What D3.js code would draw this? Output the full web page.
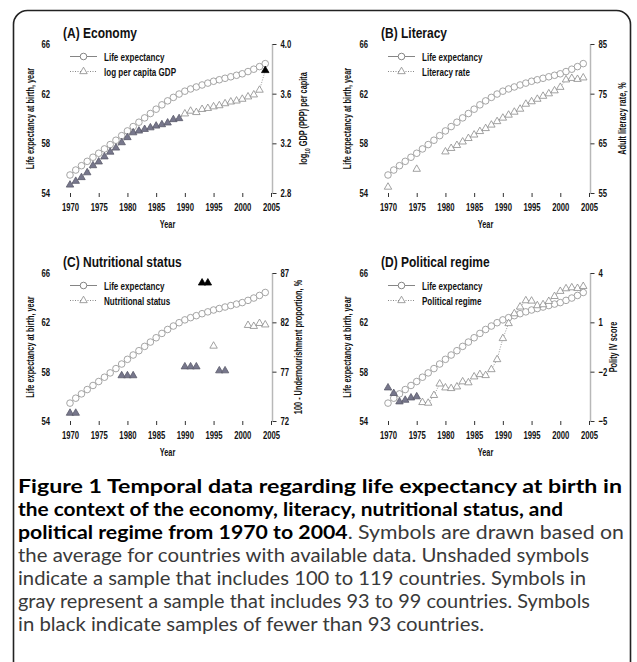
<!DOCTYPE html>
<html><head><meta charset="utf-8">
<script src="https://cdn.jsdelivr.net/npm/d3@7"></script>
<style>
html,body{margin:0;padding:0;background:#fff;}
svg{display:block;}
.cf{font-family:"Liberation Sans",Arial,sans-serif;}
</style></head>
<body>
<svg id="chart" width="637" height="662"></svg>
<script>
// ---------- DATA ----------
const years = [1970,1971,1972,1973,1974,1975,1976,1977,1978,1979,1980,1981,1982,1983,1984,1985,1986,1987,1988,1989,1990,1991,1992,1993,1994,1995,1996,1997,1998,1999,2000,2001,2002,2003,2004];
const lifeExp = [55.45,55.85,56.2,56.55,56.88,57.2,57.55,57.9,58.25,58.62,59.0,59.35,59.7,60.05,60.4,60.75,61.1,61.42,61.7,61.97,62.2,62.38,62.54,62.7,62.85,63.0,63.12,63.24,63.36,63.48,63.6,63.78,63.97,64.18,64.42];
const xTicks = [1970,1975,1980,1985,1990,1995,2000,2005];
const leftTicks = [54,58,62,66];

// (A) log10 GDP per capita
const gdpYears = years;
const gdpValues = [2.865,2.895,2.925,2.964,3.021,3.051,3.092,3.130,3.163,3.206,3.247,3.286,3.300,3.313,3.326,3.340,3.351,3.365,3.392,3.400,3.438,3.460,3.449,3.474,3.482,3.495,3.504,3.520,3.534,3.542,3.556,3.575,3.591,3.629,3.787];
const gdpShade = ["g","g","g","g","g","g","g","g","g","g","g","g","g","g","g","g","g","g","g","g","o","o","o","o","o","o","o","o","o","o","o","o","o","o","b"];
const gdpTicks = [2.8,3.2,3.6,4.0];

// (B) Adult literacy rate
const litYears = [1970,1975,1980,1981,1982,1983,1984,1985,1986,1987,1988,1989,1990,1991,1992,1993,1994,1995,1996,1997,1998,1999,2000,2001,2002,2003,2004];
const litValues = [56.2,59.8,63.3,64.0,64.6,65.3,66.0,66.7,67.4,68.0,68.7,69.4,70.1,70.7,71.3,71.9,72.9,73.4,73.9,74.5,75.0,75.6,76.3,77.8,78.1,77.9,78.2];
const litShade = ["o","o","o","o","o","o","o","o","o","o","o","o","o","o","o","o","o","o","o","o","o","o","o","o","o","o","o"];
const litTicks = [55,65,75,85];

// (C) Nutritional status (100 - undernourishment proportion)
const nutYears = [1970,1971,1979,1980,1981,1990,1991,1992,1993,1994,1995,1996,1997,2001,2002,2003,2004];
const nutValues = [72.8,72.8,76.6,76.6,76.6,77.5,77.5,77.5,86.0,86.0,79.6,77.1,77.1,81.7,81.6,81.9,81.75];
const nutShade = ["g","g","g","g","g","g","g","g","b","b","o","g","g","o","o","o","o"];
const nutTicks = [72,77,82,87];

// (D) Polity IV score
const polYears = years;
const polValues = [-2.98,-3.32,-3.83,-3.73,-3.59,-3.52,-3.87,-3.91,-3.44,-2.74,-2.98,-3.02,-2.92,-2.61,-2.67,-2.31,-2.17,-2.23,-1.87,-1.26,0.02,0.93,1.53,1.94,2.32,2.30,2.02,2.08,2.28,2.58,2.89,3.05,3.11,3.07,3.19];
const polShade = ["g","g","g","g","g","g","o","o","o","o","o","o","o","o","o","o","o","o","o","o","o","o","o","o","o","o","o","o","o","o","o","o","o","o","o"];
const polTicks = [-5,-2,1,4];

const captionLines = [
  [["b","Figure 1 Temporal data regarding life expectancy at birth in"]],
  [["b","the context of the economy, literacy, nutritional status, and"]],
  [["b","political regime from 1970 to 2004"],["r",". Symbols are drawn based on"]],
  [["r","the average for countries with available data. Unshaded symbols"]],
  [["r","indicate a sample that includes 100 to 119 countries. Symbols in"]],
  [["r","gray represent a sample that includes 93 to 99 countries. Symbols"]],
  [["r","in black indicate samples of fewer than 93 countries."]]
];

// ---------- LAYOUT ----------
const panels = [
  {title:"(A) Economy", legend:"log per capita GDP", x0:70, y0:44, y1:193, yrs:gdpYears, vals:gdpValues, shade:gdpShade, dom:[2.8,4.0], ticks:gdpTicks, fmt:d3.format(".1f"), rlabel:"gdp", rlx:307, llx:34, link:true},
  {title:"(B) Literacy", legend:"Literacy rate", x0:388, y0:44, y1:193, yrs:litYears, vals:litValues, shade:litShade, dom:[55,85], ticks:litTicks, fmt:d3.format("d"), rlabel:"Adult literacy rate, %", rlx:626, llx:351, link:true},
  {title:"(C) Nutritional status", legend:"Nutritional status", x0:70, y0:273, y1:421, yrs:nutYears, vals:nutValues, shade:nutShade, dom:[72,87], ticks:nutTicks, fmt:d3.format("d"), rlabel:"100 - Undernourishment proportion, %", rlx:302, llx:34, link:false},
  {title:"(D) Political regime", legend:"Political regime", x0:388, y0:273, y1:421, yrs:polYears, vals:polValues, shade:polShade, dom:[-5,4], ticks:polTicks, fmt:d3.format("d"), rlabel:"Polity IV score", rlx:617, llx:351, link:true}
];
const plotW = 201;
const squeeze = 0.7, titleSqueeze = 0.8;
const circleStroke = "#9a9a9a";
const triStroke = "#8a8a8a";
const fillFor = {o:"#ffffff", g:"#77778c", b:"#000000"};
const strokeFor = {o:triStroke, g:"#5a5a6a", b:"#000000"};
const capTargets = [604, 545, 606, 571, 568, 572, 466];

const svg = d3.select("#chart");

svg.append("rect").attr("x",13.5).attr("y",10.5).attr("width",617).attr("height",720)
  .attr("rx",14).attr("fill","none").attr("stroke","#222").attr("stroke-width",1.6);

const tri = d3.symbol().type(d3.symbolTriangle).size(24);

panels.forEach(p => {
  const g = svg.append("g").attr("class","cf");
  const x = d3.scaleLinear().domain([1970,2005]).range([p.x0, p.x0+plotW]);
  const yL = d3.scaleLinear().domain([54,66]).range([p.y1, p.y0]);
  const yR = d3.scaleLinear().domain(p.dom).range([p.y1, p.y0]);
  const xr = p.x0 + plotW + 1.5;

  g.append("text").attr("class","ptitle").attr("x",p.x0-7).attr("y",p.y0-6).attr("font-size",15).attr("font-weight","bold")
    .attr("fill","#111").text(p.title);

  g.append("line").attr("x1",xr).attr("x2",xr).attr("y1",p.y0).attr("y2",p.y1)
    .attr("stroke","#b8b8b8").attr("stroke-width",1.5);

  const xa = g.append("g").attr("transform",`translate(0,${p.y1})`)
    .call(d3.axisBottom(x).tickValues(xTicks).tickFormat(d3.format("d")).tickSize(4).tickPadding(6));
  xa.select(".domain").remove();
  xa.selectAll("line").attr("stroke","#333");
  xa.selectAll("text").attr("font-size",11).attr("font-weight","bold").attr("fill","#111").attr("font-family",null);

  const la = g.append("g").attr("transform",`translate(${p.x0},0)`)
    .call(d3.axisLeft(yL).tickValues(leftTicks).tickFormat(d3.format("d")).tickSize(0).tickPadding(20));
  la.select(".domain").remove();
  la.selectAll("text").attr("font-size",11).attr("font-weight","bold").attr("fill","#111").attr("font-family",null);

  const ra = g.append("g").attr("transform",`translate(${xr},0)`)
    .call(d3.axisRight(yR).tickValues(p.ticks).tickFormat(p.fmt).tickSize(4).tickPadding(4));
  ra.select(".domain").remove();
  ra.selectAll("line").attr("stroke","#333");
  ra.selectAll("text").attr("font-size",11).attr("font-weight","bold").attr("fill","#111").attr("font-family",null);

  g.append("text").attr("transform",`translate(${p.llx},${(p.y0+p.y1)/2}) rotate(-90)`)
    .attr("text-anchor","middle").attr("font-size",10.5).attr("font-weight","bold").attr("fill","#111")
    .text("Life expectancy at birth, year");
  const rt = g.append("text").attr("transform",`translate(${p.rlx},${(p.y0+p.y1)/2}) rotate(-90)`)
    .attr("text-anchor","middle").attr("font-size",10.5).attr("font-weight","bold").attr("fill","#111");
  if (p.rlabel === "gdp") {
    rt.append("tspan").text("log");
    rt.append("tspan").attr("font-size",7).attr("dy",3).text("10");
    rt.append("tspan").attr("dy",-3).text(" GDP (PPP) per capita");
  } else rt.text(p.rlabel);
  g.append("text").attr("x",p.x0+plotW/2-3).attr("y",p.y1+35).attr("text-anchor","middle")
    .attr("font-size",10.5).attr("font-weight","bold").attr("fill","#111").text("Year");

  const pts = p.yrs.map((yr,i)=>({yr, v:p.vals[i], s:p.shade[i]}));
  if (p.link) {
    const segs = [];
    pts.forEach((d,i)=>{ if(i>0 && d.yr - pts[i-1].yr === 1) segs.push([pts[i-1], d]); });
    g.selectAll(".seg").data(segs).join("line")
      .attr("x1",d=>x(d[0].yr)).attr("y1",d=>yR(d[0].v)).attr("x2",d=>x(d[1].yr)).attr("y2",d=>yR(d[1].v))
      .attr("stroke","#999").attr("stroke-width",1).attr("stroke-dasharray","1,1.5");
  }

  const le = years.map((yr,i)=>({yr, v:lifeExp[i]}));
  g.append("path").datum(le).attr("fill","none").attr("stroke",circleStroke).attr("stroke-width",0.9)
    .attr("d", d3.line().x(d=>x(d.yr)).y(d=>yL(d.v)));
  g.selectAll(".le").data(le).join("circle").attr("cx",d=>x(d.yr)).attr("cy",d=>yL(d.v)).attr("r",3.3)
    .attr("fill","#fff").attr("stroke",circleStroke).attr("stroke-width",0.9);

  g.selectAll(".tri").data(pts).join("path").attr("d",tri)
    .attr("transform",d=>`translate(${x(d.yr)},${yR(d.v)})`)
    .attr("fill",d=>fillFor[d.s]).attr("stroke",d=>strokeFor[d.s]).attr("stroke-width",0.8);

  const lx = p.x0, ly1 = p.y0+12.5, ly2 = p.y0+27.5;
  g.append("line").attr("x1",lx).attr("x2",lx+27).attr("y1",ly1).attr("y2",ly1).attr("stroke","#777").attr("stroke-width",0.9);
  g.append("circle").attr("cx",lx+13.5).attr("cy",ly1).attr("r",3.3).attr("fill","#fff").attr("stroke","#777").attr("stroke-width",0.9);
  g.append("text").attr("x",lx+34).attr("y",ly1+4).attr("font-size",11.5).attr("font-weight","bold").attr("fill","#111").text("Life expectancy");
  g.append("line").attr("x1",lx).attr("x2",lx+27).attr("y1",ly2).attr("y2",ly2).attr("stroke","#888").attr("stroke-width",1).attr("stroke-dasharray","1,1.5");
  g.append("path").attr("d",tri).attr("transform",`translate(${lx+13.5},${ly2})`).attr("fill","#fff").attr("stroke",triStroke).attr("stroke-width",0.8);
  g.append("text").attr("x",lx+34).attr("y",ly2+4).attr("font-size",11.5).attr("font-weight","bold").attr("fill","#111").text(p.legend);

  // condense chart texts (reference uses a condensed typeface)
  g.selectAll("text").each(function(){
    const n = this; const w = n.getComputedTextLength();
    const f = d3.select(n).classed("ptitle") ? titleSqueeze : squeeze;
    if (w > 0) d3.select(n).attr("textLength", w*f).attr("lengthAdjust","spacingAndGlyphs");
  });
});

// caption
const cap = svg.append("g").attr("font-family","Lato, 'Open Sans', sans-serif");
const capTop = 493, capStep = 23;
captionLines.forEach((segs,i)=>{
  const t = cap.append("text").attr("x",18).attr("y",capTop+i*capStep).attr("font-size",18.5);
  segs.forEach(s=>{
    t.append("tspan").attr("font-weight", s[0]==="b" ? "bold" : "normal")
      .attr("fill", s[0]==="b" ? "#000" : "#3a3a3a").text(s[1]);
  });
  t.attr("textLength", capTargets[i]).attr("lengthAdjust","spacingAndGlyphs");
});
</script>
</body></html>
